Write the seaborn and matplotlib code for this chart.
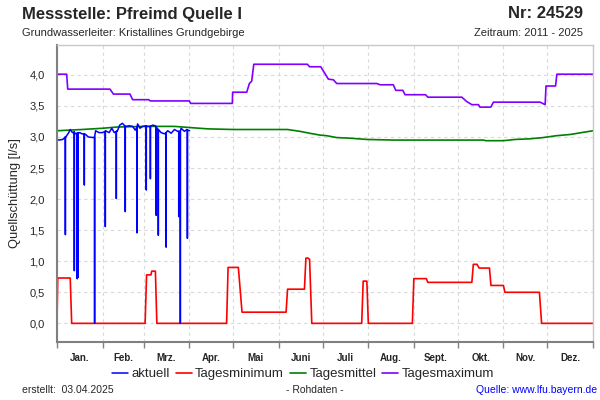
import numpy as np
import pandas as pd
import matplotlib
matplotlib.use("Agg")
import matplotlib.pyplot as plt
import seaborn as sns
from matplotlib.ticker import FixedLocator, FuncFormatter

# ---------------- data (day of year, value in l/s) ----------------
month_labels = ["Jan.", "Feb.", "Mrz.", "Apr.", "Mai", "Juni", "Juli",
                "Aug.", "Sept.", "Okt.", "Nov.", "Dez."]
month_starts = [0, 31, 59, 90, 120, 151, 181, 212, 243, 273, 304, 334, 365]

akt_days = [0, 1.5, 3.9, 6, 8, 9, 10.5, 12, 14, 15.5, 17, 19.5, 21.3, 24.7,
            26.3, 28.6, 30.9, 33, 35.5, 37.3, 39, 41, 42.7, 44.5, 46.8, 49,
            51.5, 53.3, 54.9, 56.5, 58.3, 60.6, 62.9, 65.1, 67, 68.6, 70.9,
            73.2, 75.4, 77.7, 80, 82.2, 84.5, 86.8, 88.4, 90.3]
akt_vals = [2.96, 2.95, 2.96, 3.00, 3.07, 3.12, 3.07, 3.05, 3.05, 3.07, 3.05,
            3.04, 3.00, 2.99, 3.10, 3.07, 3.07, 3.10, 3.07, 3.14, 3.07, 3.09,
            3.19, 3.22, 3.17, 3.18, 3.17, 3.11, 3.21, 3.14, 3.17, 3.18, 3.17,
            3.19, 3.18, 3.12, 3.07, 3.05, 3.10, 3.06, 3.12, 3.09, 3.14, 3.09,
            3.12, 3.10]
spike_days = [5.7, 11.8, 13.8, 14.3, 18.6, 25.6, 32.9, 40.4, 46.5, 54.5,
              60.8, 63.6, 67.6, 69.0, 74.3, 82.9, 84.0, 88.8]
spike_lows = [1.43, 0.85, 0.72, 0.74, 2.23, 0.0, 1.56, 2.01, 1.80, 1.46,
              2.15, 2.33, 1.74, 1.42, 1.23, 1.72, 0.0, 1.37]
spike_tops = [3.00, 3.08, 3.06, 3.06, 3.05, 3.00, 3.09, 3.09, 3.17, 3.16,
              3.17, 3.17, 3.16, 3.12, 3.07, 3.09, 3.09, 3.11]

min_days = [0, 0.5, 9, 10, 60, 61, 64, 64.5, 67, 68, 115.5, 116.5, 123.5, 126,
            156, 157, 168.5, 169.5, 171, 172, 173.5, 207.5, 208.5, 211, 212,
            242, 243, 251.5, 252.5, 282.5, 283.5, 286, 287.5, 294.5, 295.5,
            304, 305, 328.5, 330, 365]
min_vals = [0.0, 0.73, 0.73, 0.0, 0.0, 0.78, 0.78, 0.84, 0.84, 0.0, 0.0, 0.90,
            0.90, 0.18, 0.18, 0.55, 0.55, 1.05, 1.05, 1.03, 0.0, 0.0, 0.68,
            0.68, 0.0, 0.0, 0.72, 0.72, 0.66, 0.66, 0.95, 0.95, 0.89, 0.89,
            0.61, 0.61, 0.50, 0.50, 0.0, 0.0]

mit_days = [0, 17, 31, 41, 60, 80, 97, 103, 120, 157, 165.5, 172, 179, 183.7,
            190.5, 199.5, 211, 229, 290.4, 292, 304, 312, 322, 331, 340,
            349.5, 365]
mit_vals = [3.10, 3.12, 3.14, 3.16, 3.17, 3.17, 3.14, 3.13, 3.12, 3.12, 3.09,
            3.06, 3.03, 3.02, 2.99, 2.98, 2.96, 2.95, 2.95, 2.94, 2.94, 2.96,
            2.97, 2.99, 3.02, 3.04, 3.10]

max_days = [0, 6.6, 7.3, 36.1, 38.4, 49.7, 51.5, 62.5, 63.5, 90.1, 91, 119.4,
            119.6, 129.2, 131, 132.6, 134, 170.5, 172, 179.6, 184.8, 188.2,
            190.5, 217.8, 220, 229, 230.7, 235.5, 237, 251, 252.5, 275.7, 279,
            282.5, 287, 288, 295.4, 297.2, 329, 332.4, 333, 339.5, 340.4, 365]
max_vals = [4.01, 4.01, 3.77, 3.77, 3.69, 3.69, 3.60, 3.60, 3.58, 3.58, 3.54,
            3.54, 3.72, 3.72, 3.86, 3.90, 4.17, 4.17, 4.13, 4.13, 3.93, 3.92,
            3.86, 3.86, 3.84, 3.84, 3.75, 3.75, 3.68, 3.68, 3.64, 3.64, 3.57,
            3.52, 3.52, 3.48, 3.48, 3.56, 3.56, 3.52, 3.82, 3.82, 4.01, 4.01]

y_ticks = [0.0, 0.5, 1.0, 1.5, 2.0, 2.5, 3.0, 3.5, 4.0]

# ---------------- build aktuell series with spikes ----------------
pts = [(d, 0, v) for d, v in zip(akt_days, akt_vals)]
for d, lo, top in zip(spike_days, spike_lows, spike_tops):
    pts += [(d, 1, top), (d, 2, lo), (d, 3, top)]
pts.sort(key=lambda p: (p[0], p[1]))
akt_df = pd.DataFrame({"day": [p[0] for p in pts], "val": [p[2] for p in pts]})

# ---------------- style ----------------
sns.set_style("white")
plt.rcParams["font.family"] = ["Liberation Sans", "DejaVu Sans"]

fig = plt.figure(figsize=(6, 4), dpi=100)
ax = fig.add_axes([57 / 600, 1 - 342 / 400, 536 / 600, 297 / 400])

c_akt, c_min, c_mit, c_max = "#0000ff", "#ff0000", "#008000", "#8000ff"

sns.lineplot(x=min_days, y=min_vals, ax=ax, color=c_min, lw=1.2,
             sort=False, estimator=None, label="Tagesminimum")
sns.lineplot(x=mit_days, y=mit_vals, ax=ax, color=c_mit, lw=1.2,
             sort=False, estimator=None, label="Tagesmittel")
sns.lineplot(x=max_days, y=max_vals, ax=ax, color=c_max, lw=1.2,
             sort=False, estimator=None, label="Tagesmaximum")
sns.lineplot(data=akt_df, x="day", y="val", ax=ax, color=c_akt, lw=1.1,
             sort=False, estimator=None, label="aktuell")

ax.set_xlim(0, 365)
ax.set_ylim(-0.3, 4.48)

ax.xaxis.set_major_locator(FixedLocator(month_starts))
ax.xaxis.set_minor_locator(FixedLocator(
    [(a + b) / 2 for a, b in zip(month_starts[:-1], month_starts[1:])]))
ax.set_xticklabels([], minor=False)
ax.set_xticklabels(month_labels, minor=True, fontsize=7, fontweight="bold")
ax.tick_params(axis="x", which="major", length=4, width=1, color="#808080",
               direction="out", bottom=True)
ax.tick_params(axis="x", which="minor", length=0, pad=8)

ax.yaxis.set_major_locator(FixedLocator(y_ticks))
ax.yaxis.set_major_formatter(FuncFormatter(lambda v, p: f"{v:.1f}".replace(".", ",")))
ax.tick_params(axis="y", length=0, pad=9, labelsize=8)

ax.grid(True, which="major", color="#d9d9d9", linestyle=(0, (3, 3)), linewidth=0.8)
ax.set_axisbelow(True)

for s in ["left", "bottom"]:
    ax.spines[s].set_color("#808080")
    ax.spines[s].set_linewidth(1.5)
for s in ["top", "right"]:
    ax.spines[s].set_color("#c8c8c8")
    ax.spines[s].set_linewidth(1.0)

ax.set_xlabel("")
ax.set_ylabel("Quellschüttung [l/s]", fontsize=9.3, labelpad=6)

handles, labels = ax.get_legend_handles_labels()
ax.get_legend().remove()
order = [labels.index(n) for n in ["aktuell", "Tagesminimum", "Tagesmittel", "Tagesmaximum"]]
fig.legend([handles[i] for i in order], [labels[i] for i in order],
           loc="center", bbox_to_anchor=(303 / 600, 1 - 374 / 400), ncol=4,
           frameon=False, fontsize=9.5, handlelength=1.2, handletextpad=0.27,
           columnspacing=0.45, borderpad=0)

# ---------------- texts ----------------
fig.text(22 / 600, 1 - 14 / 400, "Messstelle: Pfreimd Quelle I", fontsize=12,
         fontweight="bold", ha="left", va="center")
fig.text(583 / 600, 1 - 14 / 400, "Nr: 24529", fontsize=12,
         fontweight="bold", ha="right", va="center")
fig.text(22 / 600, 1 - 33 / 400, "Grundwasserleiter: Kristallines Grundgebirge",
         fontsize=8, ha="left", va="center")
fig.text(583 / 600, 1 - 33 / 400, "Zeitraum: 2011 - 2025",
         fontsize=8, ha="right", va="center")
fig.text(22 / 600, 1 - 390 / 400, "erstellt:  03.04.2025", fontsize=7.5,
         ha="left", va="center")
fig.text(315 / 600, 1 - 390 / 400, "- Rohdaten -", fontsize=7.5,
         ha="center", va="center")
fig.text(597 / 600, 1 - 390 / 400, "Quelle: www.lfu.bayern.de", fontsize=7.5,
         ha="right", va="center", color="#0000ff")

fig.savefig("out.png", dpi=100)
